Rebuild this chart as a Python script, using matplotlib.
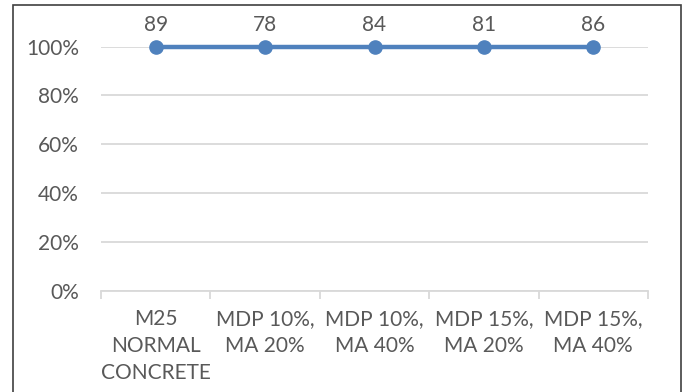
import matplotlib
matplotlib.use("Agg")
import matplotlib.pyplot as plt
from matplotlib.patches import Rectangle
from matplotlib.ticker import FixedLocator, PercentFormatter
import numpy as np

categories = ["M25\nNORMAL\nCONCRETE", "MDP 10%,\nMA 20%", "MDP 10%,\nMA 40%",
              "MDP 15%,\nMA 20%", "MDP 15%,\nMA 40%"]
values = [89, 78, 84, 81, 86]

plt.rcParams['font.family'] = ['Lato', 'DejaVu Sans']
TXT = '#595959'
GRID = '#D9D9D9'
FS = 15

W, H = 684, 392
fig = plt.figure(figsize=(W / 100, H / 100), dpi=100)
ax = fig.add_axes([101 / W, 101 / H, (648 - 101) / W, (291 - 46.5) / H])

vals = np.array(values, dtype=float)
share = vals / vals  # 100% stacked single series
x = np.arange(len(categories))
ax.plot(x, share, color='#4F81BD', lw=3.2, marker='o', ms=9.5,
        markerfacecolor='#4F81BD', markeredgecolor='#4F81BD', zorder=3, clip_on=False)
for xi, yi, v in zip(x, share, values):
    ax.annotate(str(v), (xi, yi), xytext=(0, 8.5), textcoords='offset points',
                ha='center', va='bottom', fontsize=FS, color=TXT)

ax.set_xlim(-0.5, len(categories) - 0.5)
ax.set_ylim(0, 1)
ax.yaxis.set_major_locator(FixedLocator(np.linspace(0, 1, 6)))
ax.yaxis.set_major_formatter(PercentFormatter(1.0, decimals=0))
ax.grid(axis='y', color=GRID, lw=1.3)
ax.set_axisbelow(True)
for s in ['top', 'right', 'left']:
    ax.spines[s].set_visible(False)
ax.spines['bottom'].set_color(GRID)
ax.spines['bottom'].set_linewidth(1.3)
ax.tick_params(axis='y', length=0, pad=16, labelsize=FS, labelcolor=TXT)
ax.set_xticks(x)
ax.set_xticklabels(categories, fontsize=FS, color=TXT, linespacing=1.45)
ax.tick_params(axis='x', which='major', length=0, pad=13)
ax.set_xticks(np.arange(-0.5, len(categories)), minor=True)
ax.tick_params(axis='x', which='minor', length=6, color=GRID, width=1.3)

fig.patches.append(Rectangle((12.5 / W, -0.05), (681 - 12.5) / W, 1.05 - 4.5 / H,
                             transform=fig.transFigure, fill=False,
                             edgecolor='#404040', lw=1.2))

fig.savefig('out.png', dpi=100)
